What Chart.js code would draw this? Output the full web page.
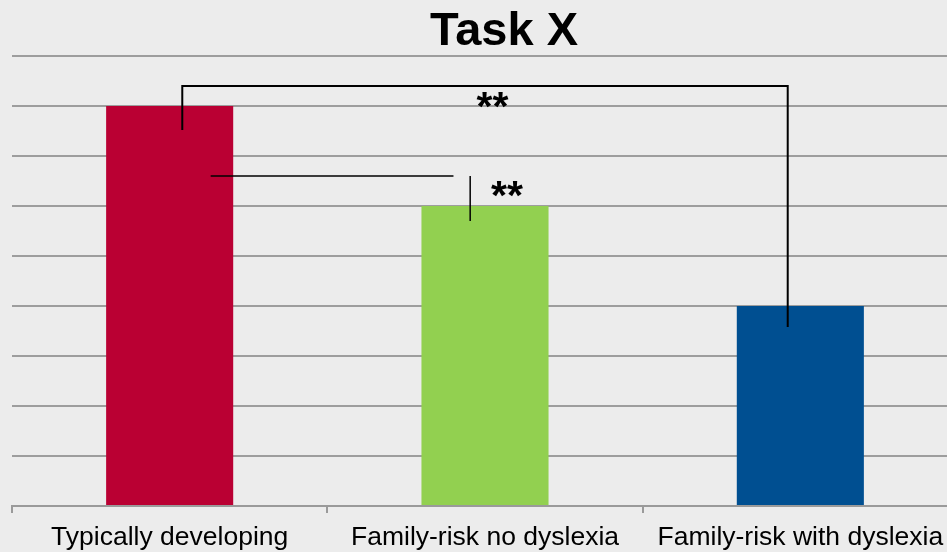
<!DOCTYPE html>
<html>
<head>
<meta charset="utf-8">
<script src="https://cdn.jsdelivr.net/npm/chart.js@4"></script>
<style>
  html, body { margin: 0; padding: 0; background: #ececec; overflow: hidden; }
  #wrap { width: 960px; height: 562px; position: relative; }
</style>
</head>
<body>
<div id="wrap"><canvas id="chartCanvas"></canvas></div>
<script>
const chartTitle = 'Task X';
const categories = ['Typically developing', 'Family-risk no dyslexia', 'Family-risk with dyslexia'];
const scores = [8, 6, 4];
const barColors = ['#ba0033', '#92d050', '#004f91'];

// significance brackets, in category index / value units
const brackets = [
  { pts: [[0.04, 7.52], [0.04, 8.4], [1.96, 8.4], [1.96, 3.58]], width: 2, label: '**', at: [1.024, 7.72] },
  { pts: [[0.13, 6.6], [0.9, 6.6]], width: 1.5, label: null },
  { pts: [[0.953, 6.6], [0.953, 5.7]], width: 1.5, label: '**', at: [1.07, 5.94] }
];

const bracketPlugin = {
  id: 'brackets',
  afterDatasetsDraw(chart) {
    const { ctx, scales: { x, y } } = chart;
    ctx.save();
    ctx.strokeStyle = '#000';
    ctx.fillStyle = '#000';
    ctx.font = 'bold 41px "Liberation Sans", Arial, sans-serif';
    ctx.textAlign = 'center';
    ctx.textBaseline = 'alphabetic';
    for (const b of brackets) {
      ctx.lineWidth = b.width;
      ctx.beginPath();
      b.pts.forEach(([cx, cy], i) => {
        const px = x.getPixelForValue(cx), py = y.getPixelForValue(cy);
        if (i === 0) ctx.moveTo(px, py); else ctx.lineTo(px, py);
      });
      ctx.stroke();
      if (b.label) {
        ctx.fillText(b.label, x.getPixelForValue(b.at[0]), y.getPixelForValue(b.at[1]));
      }
    }
    ctx.restore();
  }
};

// title sits a little right of the canvas centre
const titlePlugin = {
  id: 'taskTitle',
  afterDraw(chart) {
    const { ctx } = chart;
    ctx.save();
    ctx.fillStyle = '#000';
    ctx.font = 'bold 47px "Liberation Sans", Arial, sans-serif';
    ctx.textAlign = 'center';
    ctx.textBaseline = 'alphabetic';
    ctx.fillText(chartTitle, 504, 45);
    ctx.restore();
  }
};

Chart.defaults.font.family = '"Liberation Sans", Arial, sans-serif';

new Chart(document.getElementById('chartCanvas'), {
  type: 'bar',
  data: {
    labels: categories,
    datasets: [{
      data: scores,
      backgroundColor: barColors,
      barPercentage: 0.403,
      categoryPercentage: 1
    }]
  },
  options: {
    responsive: true,
    maintainAspectRatio: false,
    animation: false,
    layout: { padding: { left: 12, right: 2, top: 56, bottom: 0 } },
    plugins: {
      legend: { display: false },
      tooltip: { enabled: false },
      title: { display: false }
    },
    scales: {
      x: {
        grid: {
          display: true,
          drawOnChartArea: false,
          drawTicks: true,
          tickLength: 7,
          color: '#9a9a9a',
          lineWidth: 2
        },
        border: { display: true, color: '#9a9a9a', width: 2 },
        ticks: { color: '#000', font: { size: 26.5 }, padding: 8.6, maxRotation: 0, autoSkip: false }
      },
      y: {
        min: 0,
        max: 9,
        ticks: { display: false, stepSize: 1 },
        grid: { color: '#9d9d9d', lineWidth: 2, drawTicks: false },
        border: { display: false }
      }
    }
  },
  plugins: [bracketPlugin, titlePlugin]
});
</script>
</body>
</html>
